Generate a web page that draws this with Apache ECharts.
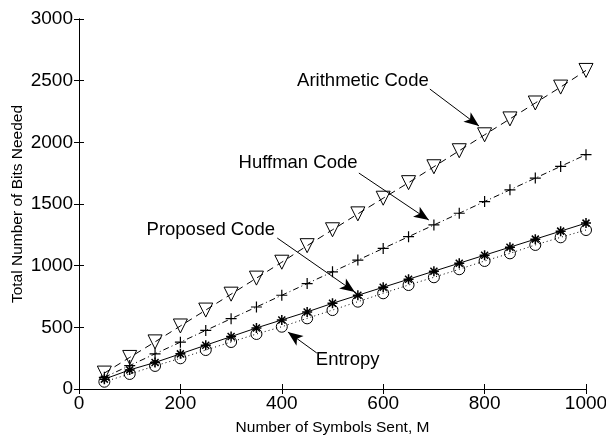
<!DOCTYPE html>
<html><head><meta charset="utf-8">
<script src="https://cdn.jsdelivr.net/npm/echarts@6/dist/echarts.min.js"></script>
<style>html,body{margin:0;padding:0;background:#fff}#c{width:606px;height:437px}</style>
</head><body><div id="c"></div>
<script>
const M = [50,100,150,200,250,300,350,400,450,500,550,600,650,700,750,800,850,900,950,1000];
const arithmetic = [129,256,382,511,640,769,899,1028,1162,1291,1420,1547,1673,1802,1932,2061,2190,2319,2448,2583];
const huffman = [95,190,285,380,475,570,665,760,855,950,1045,1140,1235,1330,1425,1520,1615,1710,1805,1900];
const proposed = [80,155,215,285,355,425,495,560,625,695,760,825,890,955,1020,1085,1150,1215,1280,1345];
const entropy = [59,122,187,249,316,381,446,505,573,640,708,776,843,906,971,1038,1100,1168,1230,1289];
const xTicks = [0,200,400,600,800,1000];
const yTicks = [0,500,1000,1500,2000,2500,3000];
const annotations = [
  {text:'Arithmetic Code', pos:[560,2495], from:[692,2432], to:[789,2132]},
  {text:'Huffman Code', pos:[432,1832], from:[552,1751], to:[690,1370]},
  {text:'Proposed Code', pos:[260,1290], from:[391,1224], to:[544,786]},
  {text:'Entropy', pos:[530,235], from:[469,292], to:[412,462]}
];

const FONT = '"Liberation Sans", Arial, Helvetica, sans-serif';
const chart = echarts.init(document.getElementById('c'), null, {renderer:'canvas'});
const pts = a => M.map((x,i)=>[x,a[i]]);
const plusPath = 'path://M5,0L5,10M0,5L10,5';
const starPath = 'path://M5,0L5,10M0,5L10,5M1.5,1.5L8.5,8.5M1.5,8.5L8.5,1.5';
const axCommon = {
  axisLine:{show:true,lineStyle:{color:'#000',width:1}},
  axisTick:{show:true,inside:true,length:5,lineStyle:{color:'#000'}},
  splitLine:{show:false}
};
const option = {
  animation:false,
  backgroundColor:'#fff',
  grid:{left:79,right:20,top:19,bottom:48,containLabel:false,outerBoundsMode:'none'},
  xAxis:[
    Object.assign({type:'value',min:0,max:1000,interval:200,position:'bottom',
      name:'Number of Symbols Sent, M',nameLocation:'middle',nameGap:31,nameMoveOverlap:false,
      nameTextStyle:{fontFamily:FONT,fontSize:15.5,color:'#000'},
      axisLabel:{fontFamily:FONT,fontSize:19,color:'#000',margin:5,formatter:v=>xTicks.includes(v)?String(v):''}},axCommon),
    Object.assign({type:'value',min:0,max:1000,interval:200,position:'top',axisLabel:{show:false}},axCommon)
  ],
  yAxis:[
    Object.assign({type:'value',min:0,max:3000,interval:500,position:'left',
      name:'Total Number of Bits Needed',nameLocation:'middle',nameGap:53,nameMoveOverlap:false,
      nameTextStyle:{fontFamily:FONT,fontSize:15.5,color:'#000'},
      axisLabel:{fontFamily:FONT,fontSize:19,color:'#000',margin:6,formatter:v=>yTicks.includes(v)?String(v):''}},axCommon),
    Object.assign({type:'value',min:0,max:3000,interval:500,position:'right',axisLabel:{show:false}},axCommon)
  ],
  series:[
    {type:'line',name:'Arithmetic Code',data:pts(arithmetic),symbol:'triangle',symbolRotate:180,symbolSize:14,
      showAllSymbol:true,lineStyle:{color:'#000',width:1,type:[7,5]},
      itemStyle:{color:'transparent',borderColor:'#000',borderWidth:1}},
    {type:'line',name:'Huffman Code',data:pts(huffman),symbol:plusPath,symbolSize:11,
      showAllSymbol:true,lineStyle:{color:'#000',width:1,type:[6,3,1,3]},
      itemStyle:{color:'transparent',borderColor:'#000',borderWidth:1.2}},
    {type:'line',name:'Proposed Code',data:pts(proposed),symbol:starPath,symbolSize:10,
      showAllSymbol:true,lineStyle:{color:'#000',width:1,type:'solid'},
      itemStyle:{color:'transparent',borderColor:'#000',borderWidth:1.5}},
    {type:'line',name:'Entropy',data:pts(entropy),symbol:'circle',symbolSize:11,
      showAllSymbol:true,lineStyle:{color:'#000',width:1,type:[1,3]},
      itemStyle:{color:'transparent',borderColor:'#000',borderWidth:1}},
    {type:'line',name:'annot',data:[],silent:true,
      markLine:{silent:true,symbol:['none','arrow'],symbolSize:[9,15],animation:false,
        label:{show:false},lineStyle:{color:'#000',width:1,type:'solid'},
        data:annotations.map(a=>[{coord:a.from},{coord:a.to}])},
      markPoint:{silent:true,symbol:'circle',symbolSize:0,animation:false,
        label:{show:true,position:'inside',color:'#000',fontFamily:FONT,fontSize:18.5,formatter:p=>p.name},
        data:annotations.map(a=>({name:a.text,coord:a.pos}))}
    }
  ]
};
chart.setOption(option);
</script></body></html>
